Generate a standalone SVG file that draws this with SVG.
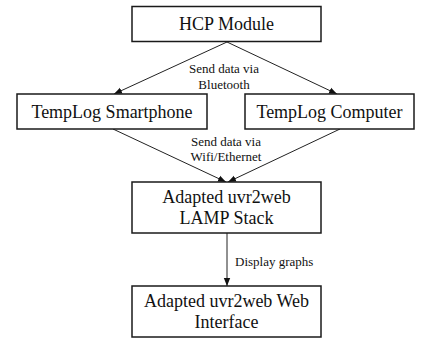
<svg xmlns="http://www.w3.org/2000/svg" width="427" height="339" viewBox="0 0 427 339">
<style>
.box{fill:#fff;stroke:#1a1a1a;stroke-width:1.5}
.t{font-family:"Liberation Serif","Times New Roman",serif;font-size:18px;fill:#111;text-anchor:middle}
.l{font-family:"Liberation Serif","Times New Roman",serif;font-size:13px;fill:#111;text-anchor:middle}
.c{stroke:#222;stroke-width:1;fill:none;marker-end:url(#ah)}
</style>
<defs>
<marker id="ah" viewBox="0 0 10 10" refX="10" refY="5" markerWidth="8" markerHeight="8" markerUnits="userSpaceOnUse" orient="auto">
<path d="M0,1 L10,5 L0,9 Z" fill="#111"/>
</marker>
</defs>
<rect width="427" height="339" fill="#fff"/>
<g id="connectors">
<line class="c" x1="227" y1="42" x2="114" y2="94"/>
<line class="c" x1="227" y1="42" x2="337" y2="94"/>
<line class="c" x1="113" y1="129" x2="226" y2="182"/>
<line class="c" x1="340" y1="129" x2="228" y2="182"/>
<line class="c" x1="227" y1="233" x2="227" y2="286"/>
<text class="l" x="224" y="73">Send data via</text>
<text class="l" x="224" y="89">Bluetooth</text>
<text class="l" x="226" y="146">Send data via</text>
<text class="l" x="226" y="161">Wifi/Ethernet</text>
<text class="l" x="235" y="266" style="text-anchor:start">Display graphs</text>
</g>
<g id="hcp">
<rect class="box" x="132" y="6.5" width="189" height="35"/>
<text class="t" x="226.5" y="30">HCP Module</text>
</g>
<g id="smartphone">
<rect class="box" x="17" y="94" width="190" height="35"/>
<text class="t" x="112" y="118">TempLog Smartphone</text>
</g>
<g id="computer">
<rect class="box" x="245" y="94" width="169" height="35"/>
<text class="t" x="329.5" y="118">TempLog Computer</text>
</g>
<g id="lamp">
<rect class="box" x="132" y="182" width="189" height="51"/>
<text class="t" x="226.5" y="203">Adapted uvr2web</text>
<text class="t" x="226.5" y="224">LAMP Stack</text>
</g>
<g id="web">
<rect class="box" x="132" y="286" width="189" height="51"/>
<text class="t" x="226.5" y="307">Adapted uvr2web Web</text>
<text class="t" x="226.5" y="328">Interface</text>
</g>
</svg>
